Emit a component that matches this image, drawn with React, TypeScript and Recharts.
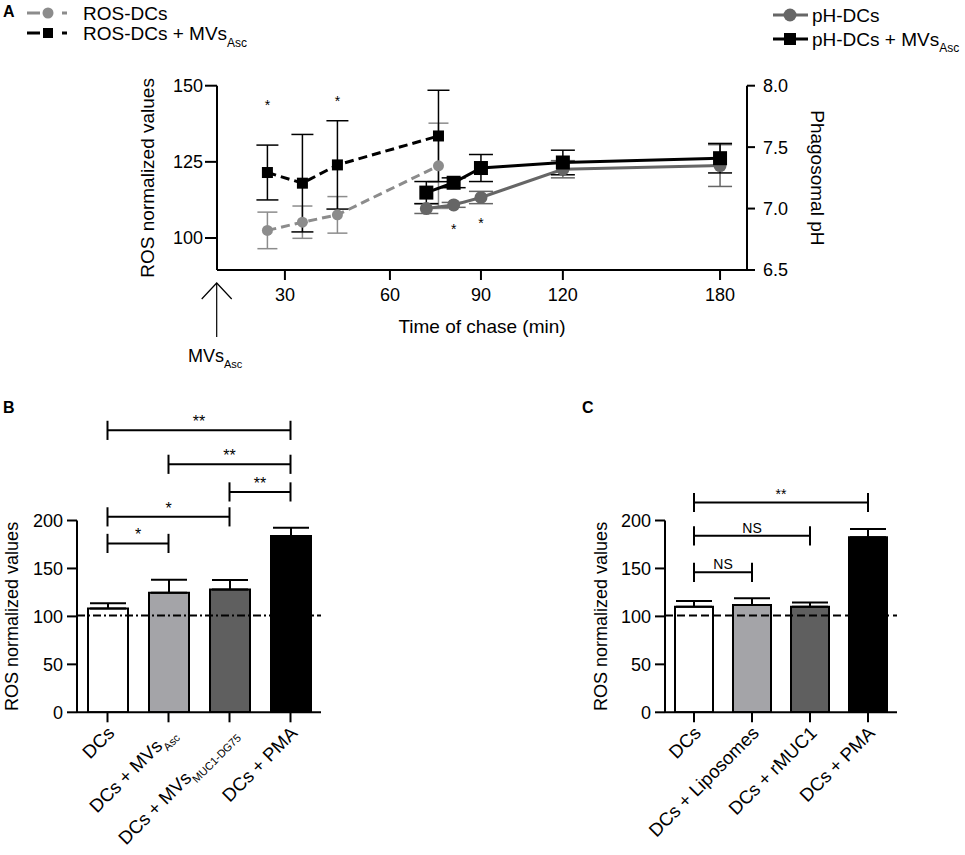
import {
  Bar,
  BarChart,
  Cell,
  ComposedChart,
  ErrorBar,
  Line,
  ReferenceLine,
  Scatter,
  XAxis,
  YAxis,
} from "recharts"

const FONT = "'Liberation Sans', Arial, Helvetica, sans-serif"
const GRAY_ROS = "#8c8c8c"
const GRAY_PH = "#666666"

// ---- panel A: time course ----
const rosTimes = [25, 35, 45, 76]
const rosDCs = [102.5, 105.2, 107.6, 123.7]
const rosDCsErr = [6, 5.3, 6, 14]
const rosMVs = [121.5, 118, 124, 133.5]
const rosMVsErr = [9, 16, 14.5, 15]

const phTimes = [72, 81, 90, 120, 180]
const phDCs = [7.0, 7.03, 7.09, 7.32, 7.35]
const phDCsErr = [0.04, 0.02, 0.05, 0.07, 0.17]
const phMVs = [7.13, 7.21, 7.33, 7.375, 7.41]
const phMVsErr = [0.09, 0.04, 0.11, 0.1, 0.12]

const starTimes = [25, 45, 81, 90]
const starRos = [144.5, 146, 104, 106]

const chaseTicks = [30, 60, 90, 120, 180]
const rosTicks = [100, 125, 150]
const phTicks = [6.5, 7.0, 7.5, 8.0]

// the figure squeezes the time axis after 60 min
const timeStops = [60, 90, 120, 180]
const axisStops = [60, 86, 109.4, 154.3]

function toAxis(t: number) {
  if (t <= timeStops[0]) return t
  for (let i = 1; i < timeStops.length; i++) {
    if (t <= timeStops[i]) {
      const f = (t - timeStops[i - 1]) / (timeStops[i] - timeStops[i - 1])
      return axisStops[i - 1] + f * (axisStops[i] - axisStops[i - 1])
    }
  }
  const n = timeStops.length - 1
  const slope = (axisStops[n] - axisStops[n - 1]) / (timeStops[n] - timeStops[n - 1])
  return axisStops[n] + (t - timeStops[n]) * slope
}

const axisTicks = chaseTicks.map(toAxis)

const series = (times: number[], vals: number[], errs: number[]) =>
  times.map((t, i) => ({ pos: toAxis(t), value: vals[i], err: errs[i] }))

const rosDCsData = series(rosTimes, rosDCs, rosDCsErr)
const rosMVsData = series(rosTimes, rosMVs, rosMVsErr)
const phDCsData = series(phTimes, phDCs, phDCsErr)
const phMVsData = series(phTimes, phMVs, phMVsErr)
const starData = starTimes.map((t, i) => ({ pos: toAxis(t), y: starRos[i] }))

// ---- panels B and C: bars ----
const bMain = ["DCs", "DCs + MVs", "DCs + MVs", "DCs + PMA"]
const bSub = ["", "Asc", "MUC1-DG75", ""]
const bValues = [108.3, 124.6, 128, 183.8]
const bErrors = [5.5, 13.5, 10, 8.6]

const cMain = ["DCs", "DCs + Liposomes", "DCs + rMUC1", "DCs + PMA"]
const cSub = ["", "", "", ""]
const cValues = [110, 112, 110, 182.6]
const cErrors = [6, 7, 4.5, 8.5]

const barFills = ["#ffffff", "#a4a4a8", "#5f5f5f", "#000000"]
const barTicks = [0, 50, 100, 150, 200]
const baseline = 101

const bBrackets = [
  { from: 0, to: 3, y: 294, label: "**" },
  { from: 1, to: 3, y: 258.6, label: "**" },
  { from: 2, to: 3, y: 229.8, label: "**" },
  { from: 0, to: 2, y: 203.8, label: "*" },
  { from: 0, to: 1, y: 176.1, label: "*" },
]
const cBrackets = [
  { from: 0, to: 3, y: 218.8, label: "**" },
  { from: 0, to: 2, y: 184, label: "NS" },
  { from: 0, to: 1, y: 146, label: "NS" },
]

const barRows = (main: string[], sub: string[], vals: number[], errs: number[]) =>
  main.map((m, i) => ({ key: m + sub[i], value: vals[i], err: [0, errs[i]] }))

const bData = barRows(bMain, bSub, bValues, bErrors)
const cData = barRows(cMain, cSub, cValues, cErrors)

const squareDot = (size: number, fill: string) => (p: any) =>
  <rect key={p.index} x={p.cx - size / 2} y={p.cy - size / 2} width={size} height={size} fill={fill} />

const circleDot = (r: number, fill: string) => (p: any) =>
  <circle key={p.index} cx={p.cx} cy={p.cy} r={r} fill={fill} />

const axisStyle = { stroke: "#000", strokeWidth: 2 }
const tickText = { fill: "#000", fontSize: 18 }

function CatTick({ x, y, payload, main, sub }: any) {
  const i = main.findIndex((m: string, k: number) => m + sub[k] === payload.value)
  return (
    <g transform={`translate(${x + 8},${y + 10})`}>
      <text textAnchor="end" transform="rotate(-45)" fontSize={18.5} fill="#000">
        {main[i]}
        {sub[i] ? (
          <tspan fontSize={11} dy={6}>
            {sub[i]}
          </tspan>
        ) : null}
      </text>
    </g>
  )
}

function brackets(list: typeof bBrackets, keys: string[], fontSize: number) {
  const line = { stroke: "#000", strokeWidth: 2, ifOverflow: "visible" as const }
  return list.flatMap((b, i) => [
    <ReferenceLine
      key={`h${i}`}
      {...line}
      segment={[{ x: keys[b.from], y: b.y }, { x: keys[b.to], y: b.y }]}
      label={{ value: b.label, position: "top", offset: 3, fill: "#000", fontSize }}
    />,
    <ReferenceLine
      key={`l${i}`}
      {...line}
      segment={[{ x: keys[b.from], y: b.y - 10 }, { x: keys[b.from], y: b.y + 10 }]}
    />,
    <ReferenceLine
      key={`r${i}`}
      {...line}
      segment={[{ x: keys[b.to], y: b.y - 10 }, { x: keys[b.to], y: b.y + 10 }]}
    />,
  ])
}

function BarPanel({ data, main, sub, barSize, list, left, yLabelWidth, width, dash, bracketFont }: any) {
  const keys = data.map((d: any) => d.key)
  return (
    <div style={{ position: "absolute", left, top: 380 }}>
      <BarChart width={width} height={475} data={data} margin={{ top: 140.5, right: 10, bottom: 2.7, left: 0 }}>
        <XAxis
          dataKey="key"
          height={140}
          axisLine={axisStyle}
          tickLine={axisStyle}
          tickSize={10}
          interval={0}
          tick={<CatTick main={main} sub={sub} />}
        />
        <YAxis
          width={yLabelWidth}
          domain={[0, 200]}
          ticks={barTicks}
          allowDataOverflow
          axisLine={axisStyle}
          tickLine={axisStyle}
          tickSize={10}
          tickMargin={4}
          tick={tickText}
          label={{ value: "ROS normalized values", angle: -90, position: "center", fill: "#000", fontSize: 18 }}
        />
        <Bar dataKey="value" barSize={barSize} stroke="#000" strokeWidth={2} isAnimationActive={false}>
          {data.map((_: any, i: number) => (
            <Cell key={i} fill={barFills[i]} />
          ))}
          <ErrorBar dataKey="err" width={18} stroke="#000" strokeWidth={2} direction="y" />
        </Bar>
        <ReferenceLine y={baseline} stroke="#000" strokeWidth={2} strokeDasharray={dash} />
        {brackets(list, keys, bracketFont)}
      </BarChart>
    </div>
  )
}

export default function App() {
  return (
    <div style={{ position: "fixed", left: 0, top: 0, width: 965, height: 855, background: "#fff", fontFamily: FONT }}>
      <div style={{ position: "absolute", left: 0, top: 0 }}>
        <ComposedChart width={965} height={380} margin={{ top: 85.7, right: 76, bottom: 70, left: 77 }}>
          <XAxis
            type="number"
            dataKey="pos"
            domain={[10.6, 162]}
            ticks={axisTicks}
            interval={0}
            allowDataOverflow
            height={40}
            tickFormatter={(v: number) => String(chaseTicks[axisTicks.indexOf(v)] ?? "")}
            axisLine={axisStyle}
            tickLine={axisStyle}
            tickSize={10}
            tickMargin={8}
            tick={tickText}
            label={{ value: "Time of chase (min)", position: "bottom", offset: 10, fill: "#000", fontSize: 19 }}
          />
          <YAxis
            yAxisId="ros"
            width={140}
            domain={[89.5, 150]}
            ticks={rosTicks}
            allowDataOverflow
            axisLine={axisStyle}
            tickLine={axisStyle}
            tickSize={12}
            tickMargin={2}
            tick={tickText}
            label={{ value: "ROS normalized values", angle: -90, position: "center", fill: "#000", fontSize: 19 }}
          />
          <YAxis
            yAxisId="ph"
            orientation="right"
            width={142}
            domain={[6.5, 8.0]}
            ticks={phTicks}
            allowDataOverflow
            tickFormatter={(v: number) => v.toFixed(1)}
            axisLine={axisStyle}
            tickLine={axisStyle}
            tickSize={8}
            tickMargin={8}
            tick={tickText}
            label={{ value: "Phagosomal pH", angle: 90, position: "center", fill: "#000", fontSize: 19 }}
          />
          <Line
            yAxisId="ros"
            data={rosDCsData}
            dataKey="value"
            stroke={GRAY_ROS}
            strokeWidth={3}
            strokeDasharray="9 5"
            dot={circleDot(5.5, GRAY_ROS)}
            activeDot={false}
            isAnimationActive={false}
          >
            <ErrorBar dataKey="err" width={10} stroke={GRAY_ROS} strokeWidth={1.5} direction="y" />
          </Line>
          <Line
            yAxisId="ros"
            data={rosMVsData}
            dataKey="value"
            stroke="#000"
            strokeWidth={3}
            strokeDasharray="9 5"
            dot={squareDot(11, "#000")}
            activeDot={false}
            isAnimationActive={false}
          >
            <ErrorBar dataKey="err" width={11} stroke="#000" strokeWidth={1.5} direction="y" />
          </Line>
          <Line
            yAxisId="ph"
            data={phDCsData}
            dataKey="value"
            stroke={GRAY_PH}
            strokeWidth={3}
            dot={circleDot(6.5, GRAY_PH)}
            activeDot={false}
            isAnimationActive={false}
          >
            <ErrorBar dataKey="err" width={12} stroke={GRAY_PH} strokeWidth={1.5} direction="y" />
          </Line>
          <Line
            yAxisId="ph"
            data={phMVsData}
            dataKey="value"
            stroke="#000"
            strokeWidth={3}
            dot={squareDot(14, "#000")}
            activeDot={false}
            isAnimationActive={false}
          >
            <ErrorBar dataKey="err" width={12} stroke="#000" strokeWidth={1.5} direction="y" />
          </Line>
          <Scatter
            yAxisId="ros"
            data={starData}
            dataKey="y"
            isAnimationActive={false}
            shape={(p: any) => (
              <text x={p.cx} y={p.cy + 8} textAnchor="middle" fontSize={14} fill="#000">
                *
              </text>
            )}
          />
        </ComposedChart>
      </div>

      <BarPanel
        data={bData}
        main={bMain}
        sub={bSub}
        barSize={40}
        list={bBrackets}
        left={-53}
        yLabelWidth={130}
        width={384}
        dash="8 3 2 3"
        bracketFont={16}
      />
      <BarPanel
        data={cData}
        main={cMain}
        sub={cSub}
        barSize={38}
        list={cBrackets}
        left={537}
        yLabelWidth={128}
        width={370}
        dash="8 4"
        bracketFont={14}
      />

      <svg width={965} height={855} style={{ position: "absolute", left: 0, top: 0, pointerEvents: "none" }}>
        <text x={3} y={17} fontSize={16} fontWeight="bold">A</text>
        <text x={3} y={413} fontSize={16} fontWeight="bold">B</text>
        <text x={582} y={413} fontSize={16} fontWeight="bold">C</text>

        {/* legend, left */}
        <line x1={27} y1={13} x2={67} y2={13} stroke={GRAY_ROS} strokeWidth={3} strokeDasharray="13 22" />
        <circle cx={48} cy={13} r={5.5} fill={GRAY_ROS} />
        <text x={83} y={20} fontSize={19}>ROS-DCs</text>
        <line x1={27} y1={33} x2={67} y2={33} stroke="#000" strokeWidth={3} strokeDasharray="13 22" />
        <rect x={43} y={28} width={10} height={10} fill="#000" />
        <text x={83} y={40} fontSize={19}>
          ROS-DCs + MVs<tspan fontSize={12} dy={7}>Asc</tspan>
        </text>

        {/* legend, right */}
        <line x1={773} y1={15} x2={808} y2={15} stroke={GRAY_PH} strokeWidth={3} />
        <circle cx={790} cy={15} r={6.5} fill={GRAY_PH} />
        <text x={812} y={22} fontSize={19}>pH-DCs</text>
        <line x1={773} y1={39} x2={808} y2={39} stroke="#000" strokeWidth={3} />
        <rect x={784} y={33} width={12} height={12} fill="#000" />
        <text x={812} y={46} fontSize={19}>
          pH-DCs + MVs<tspan fontSize={12} dy={6}>Asc</tspan>
        </text>

        {/* MVs addition arrow */}
        <line x1={216.7} y1={283} x2={216.7} y2={337} stroke="#000" strokeWidth={1.2} />
        <polyline points="201.7,299 216.7,283 231.7,299" fill="none" stroke="#000" strokeWidth={1.2} />
        <text x={188} y={362} fontSize={18}>
          MVs<tspan fontSize={11} dy={6}>Asc</tspan>
        </text>
      </svg>
    </div>
  )
}
